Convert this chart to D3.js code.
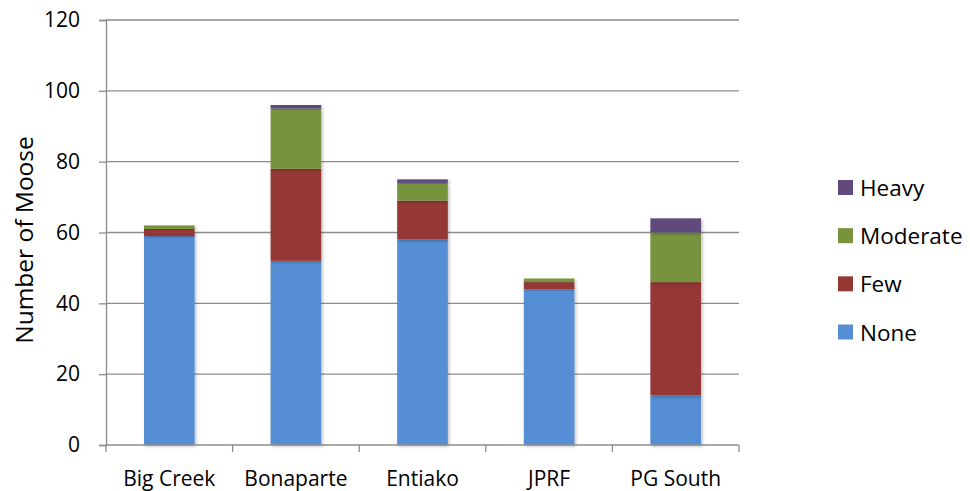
<!DOCTYPE html>
<html>
<head>
<meta charset="utf-8">
<script src="https://cdn.jsdelivr.net/npm/d3@7"></script>
<style>
  html, body { margin: 0; padding: 0; background: #fff; }
  svg { display: block; font-family: "Open Sans", Lato, sans-serif; }
</style>
</head>
<body>
<svg id="chart" width="970" height="491"></svg>
<script>
// Moose counts per study area, split by tick load class
const categories = ["Big Creek", "Bonaparte", "Entiako", "JPRF", "PG South"];
const seriesNames = ["None", "Few", "Moderate", "Heavy"];
const noneValues = [59, 52, 58, 44, 14];
const fewValues = [2, 26, 11, 2, 32];
const moderateValues = [1, 17, 5, 1, 14];
const heavyValues = [0, 1, 1, 0, 4];
const yTicks = [0, 20, 40, 60, 80, 100, 120];
const colors = ["#558ED5", "#953735", "#77933C", "#604A7B"];

const table = categories.map((c, i) => ({
  category: c,
  None: noneValues[i],
  Few: fewValues[i],
  Moderate: moderateValues[i],
  Heavy: heavyValues[i]
}));

const svg = d3.select("#chart");
const margin = { left: 106, right: 231, top: 20, bottom: 46 };
const W = 970, H = 491;
const x0 = margin.left, x1 = W - margin.right;
const y0 = H - margin.bottom, y1 = margin.top;
const FONT = "'Open Sans', Lato, sans-serif";

const x = d3.scaleBand().domain(categories).range([x0, x1]).paddingInner(0.6).paddingOuter(0.3);
const xEdges = d3.scaleBand().domain(categories).range([x0, x1]).padding(0);
const y = d3.scaleLinear().domain([0, 120]).range([y0, y1]);
const color = d3.scaleOrdinal().domain(seriesNames).range(colors);

// soft drop shadow under the bars
const defs = svg.append("defs");
const f = defs.append("filter").attr("id", "shadow").attr("x", "-20%").attr("y", "-20%").attr("width", "140%").attr("height", "140%");
f.append("feDropShadow").attr("dx", 1.5).attr("dy", 1.5).attr("stdDeviation", 1.5)
  .attr("flood-color", "#000").attr("flood-opacity", 0.25);

// horizontal gridlines
svg.append("g")
  .selectAll("line")
  .data(yTicks.filter(t => t > 0))
  .join("line")
  .attr("x1", x0).attr("x2", x1)
  .attr("y1", d => y(d)).attr("y2", d => y(d))
  .attr("stroke", "#8c8c8c").attr("stroke-width", 1.3);

// y axis
const yAxis = svg.append("g")
  .attr("transform", `translate(${x0},0)`)
  .call(d3.axisLeft(y).tickValues(yTicks).tickSize(7).tickPadding(19));
yAxis.select(".domain").attr("stroke", "#8c8c8c").attr("stroke-width", 1.3);
yAxis.selectAll(".tick line").attr("stroke", "#8c8c8c").attr("stroke-width", 1.3);
yAxis.selectAll(".tick text").attr("font-size", 21).attr("fill", "#000")
  .attr("font-family", FONT);

// stacked bars
const stack = d3.stack().keys(seriesNames);
const layers = stack(table);
svg.append("g")
  .selectAll("g")
  .data(layers)
  .join("g")
  .attr("fill", d => color(d.key))
  .selectAll("rect")
  .data(d => d)
  .join("rect")
  .attr("x", d => x(d.data.category))
  .attr("width", x.bandwidth())
  .attr("y", d => y(d[1]))
  .attr("height", d => y(d[0]) - y(d[1]))
  .attr("filter", "url(#shadow)");

// x axis with ticks at category boundaries
const xAxisG = svg.append("g").attr("transform", `translate(0,${y0})`);
xAxisG.append("line").attr("x1", x0).attr("x2", x1).attr("y1", 0).attr("y2", 0)
  .attr("stroke", "#8c8c8c").attr("stroke-width", 1.3);
const boundaries = categories.map(c => xEdges(c)).concat([x1]);
xAxisG.selectAll("line.tick")
  .data(boundaries)
  .join("line")
  .attr("class", "tick")
  .attr("x1", d => d).attr("x2", d => d)
  .attr("y1", 0).attr("y2", 7)
  .attr("stroke", "#8c8c8c").attr("stroke-width", 1.3);
xAxisG.selectAll("text")
  .data(categories)
  .join("text")
  .attr("x", d => x(d) + x.bandwidth() / 2)
  .attr("y", 40.5)
  .attr("text-anchor", "middle")
  .attr("font-size", 21)
  .attr("fill", "#000")
  .text(d => d);

// y axis title
svg.append("text")
  .attr("transform", `translate(33,240) rotate(-90)`)
  .attr("text-anchor", "middle")
  .attr("font-size", 24.5)
  .attr("fill", "#000")
  .text("Number of Moose");

// legend, top entry is the last series
const legendItems = seriesNames.slice().reverse();
const legend = svg.append("g");
const ly = d3.scalePoint().domain(legendItems).range([187.5, 332]);
legend.selectAll("rect")
  .data(legendItems)
  .join("rect")
  .attr("x", 838)
  .attr("y", d => ly(d) - 7.5)
  .attr("width", 15).attr("height", 15)
  .attr("fill", d => color(d));
legend.selectAll("text")
  .data(legendItems)
  .join("text")
  .attr("x", 860)
  .attr("y", d => ly(d) + 8.5)
  .attr("font-size", 22.5)
  .attr("fill", "#000")
  .text(d => d);
</script>
</body>
</html>
